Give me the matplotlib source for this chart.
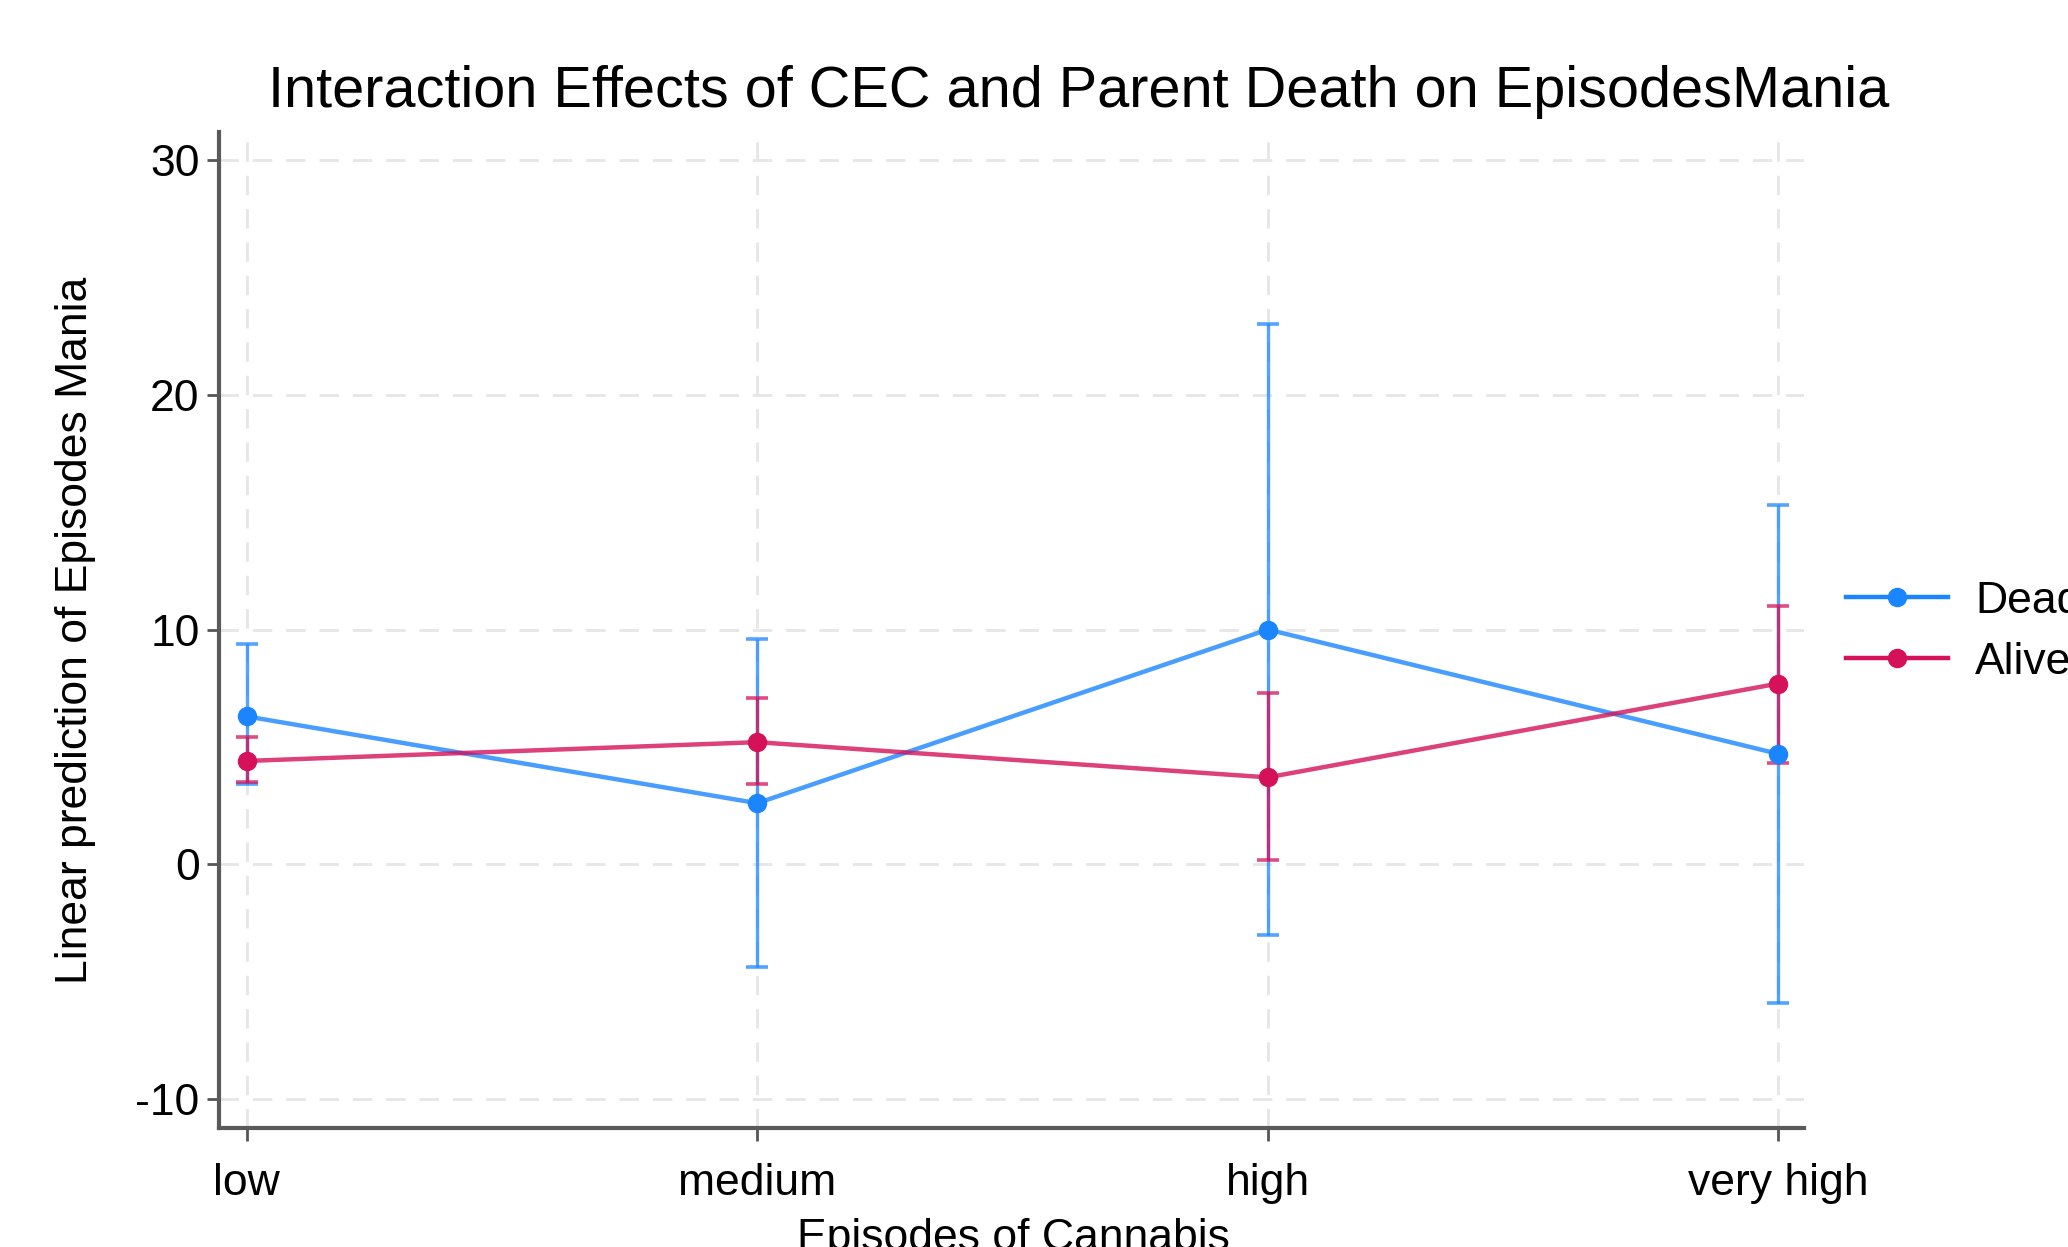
import matplotlib
matplotlib.use("Agg")
import matplotlib.pyplot as plt
from matplotlib.lines import Line2D
import numpy as np

# categorías y predicciones
categorias = ["low", "medium", "high", "very high"]
dead_media = [6.3, 2.6, 10.0, 4.7]
dead_inf = [3.4, -4.4, -3.0, -5.9]
dead_sup = [9.4, 9.6, 23.0, 15.3]
alive_media = [4.4, 5.2, 3.7, 7.7]
alive_inf = [3.5, 3.4, 0.2, 4.3]
alive_sup = [5.4, 7.1, 7.3, 11.0]
yticks = [-10, 0, 10, 20, 30]

azul = "#1A85FF"
rojo = "#D41159"

plt.rcParams['font.family'] = ['Liberation Sans', 'DejaVu Sans']

fig = plt.figure(figsize=(20.68, 12.47), dpi=100)
ax = fig.add_axes([219 / 2068, 1 - 1128 / 1247, (1804 - 219) / 2068, (1128 - 132) / 1247])

x = np.arange(len(categorias))

def dibujar(media, inf, sup, color):
    media = np.array(media)
    err = [media - np.array(inf), np.array(sup) - media]
    ax.errorbar(x, media, yerr=err, fmt="none", ecolor=color, elinewidth=2.4,
                capsize=8, capthick=2.6, alpha=0.75, zorder=3)
    ax.plot(x, media, color=color, lw=3.2, alpha=0.8, zorder=4)
    ax.plot(x, media, "o", color=color, ms=13, zorder=5)

dibujar(dead_media, dead_inf, dead_sup, azul)
dibujar(alive_media, alive_inf, alive_sup, rojo)

ax.set_xlim(-0.054, 3.05)
ax.set_ylim(-11.24, 31.2)
ax.set_xticks(x)
ax.set_xticklabels(categorias, fontsize=32)
ax.set_yticks(yticks)
ax.set_yticklabels([str(v) for v in yticks], fontsize=32)
ax.tick_params(direction="out", length=9, width=2.0, color="#555555")
ax.tick_params(axis="x", pad=16)
ax.tick_params(axis="y", pad=5)

for lado in ["top", "right"]:
    ax.spines[lado].set_visible(False)
for lado in ["left", "bottom"]:
    ax.spines[lado].set_color("#5a5a5a")
    ax.spines[lado].set_linewidth(3)

ax.grid(True, color="#e6e6e6", linestyle=(0, (7, 5)), linewidth=2)
ax.set_axisbelow(True)

fig.text(1079 / 2068, 1 - 92 / 1247,
         "Interaction Effects of CEC and Parent Death on EpisodesMania",
         fontsize=41.5, ha="center", va="center")
ax.set_ylabel("Linear prediction of Episodes Mania", fontsize=32)
ax.yaxis.set_label_coords((96 - 219) / (1804 - 219), 0.5)
ax.set_xlabel("Episodes of Cannabis", fontsize=32)
ax.xaxis.set_label_coords((1013 - 219) / (1804 - 219), -0.09)

# leyenda a la derecha (cortada por el borde como en la original)
h_dead = Line2D([0], [0], color=azul, lw=3.2, marker="o", ms=13)
h_alive = Line2D([0], [0], color=rojo, lw=3.2, marker="o", ms=13)
fig.legend([h_dead, h_alive], ["Dead", "Alive"], loc="center left",
           bbox_to_anchor=(1806 / 2068, 1 - 632 / 1247), frameon=False,
           fontsize=32, handlelength=2.3, handletextpad=0.6, labelspacing=0.45)

fig.savefig("out.png", dpi=100)
